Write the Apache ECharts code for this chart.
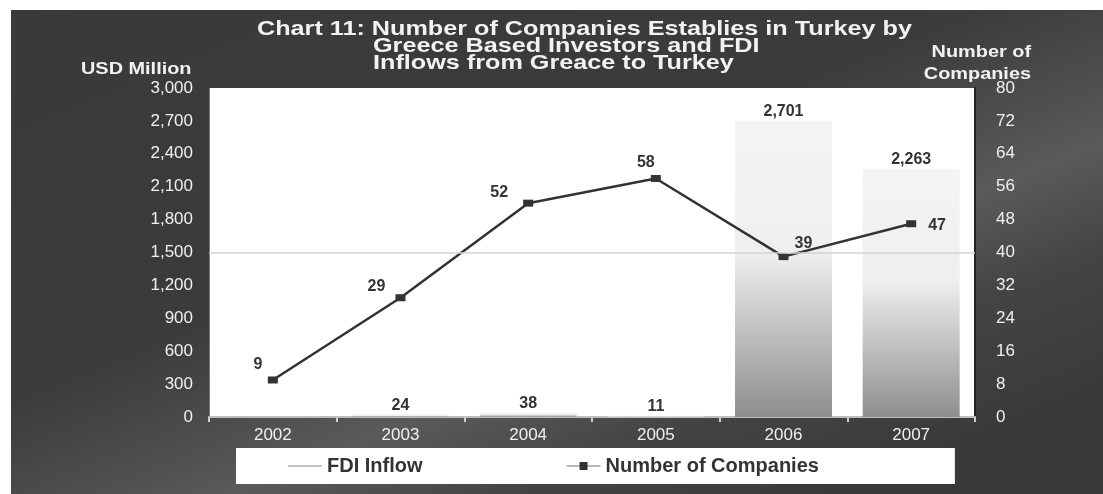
<!DOCTYPE html>
<html><head><meta charset="utf-8">
<script src="https://cdn.jsdelivr.net/npm/echarts@6/dist/echarts.min.js"></script>
<style>
html,body{margin:0;padding:0;background:#fff;width:1103px;height:494px;overflow:hidden;}
#bg{position:absolute;left:11px;top:10px;width:1092px;height:484px;
background:linear-gradient(158deg,#3a3a3a 0%,#3b3b3b 42%,#505050 56%,#5a5a5a 62%,#444 74%,#3a3a3a 88%);}
#chart{position:absolute;left:0;top:0;width:1103px;height:494px;}
</style></head><body>
<div id="bg"></div><div id="chart"></div>
<script>
// ---- data ----
const years = ['2002', '2003', '2004', '2005', '2006', '2007'];
const fdiInflow = [null, 24, 38, 11, 2701, 2263];          // USD Million
const companies = [9, 29, 52, 58, 39, 47];                  // Number of Companies
const titleLines = [
  'Chart 11: Number of Companies Establies in Turkey by',
  'Greece Based Investors and FDI',
  'Inflows from Greace to Turkey'
];
const leftAxisName = 'USD Million';
const rightAxisName = ['Number of', 'Companies'];
const seriesNames = ['FDI Inflow', 'Number of Companies'];

// ---- style (label placements for the line points) ----
const lineLabelStyle = [
  {position: 'top', offset: [-15, 1]},
  {position: 'top', offset: [-24, 5]},
  {position: 'top', offset: [-29, 6]},
  {position: 'top', offset: [-10, 1]},
  {position: 'top', offset: [20, 3]},
  {position: 'right', offset: [7, 2]}
];

const font = 'Liberation Sans, Arial, sans-serif';
const chart = echarts.init(document.getElementById('chart'), null, {renderer: 'canvas'});

const fmt = v => (v == null ? '' : Number(v).toLocaleString('en-US'));
const whiteBold = size => ({fill: '#f2f2f2', font: 'bold ' + size + 'px ' + font, verticalAlign: 'middle'});

const option = {
  animation: false,
  backgroundColor: 'transparent',
  graphic: [
    {type: 'text', x: 257, y: 29, scaleX: 1.2, style: Object.assign({text: titleLines[0], align: 'left'}, whiteBold(21))},
    {type: 'text', x: 373, y: 46, scaleX: 1.2, style: Object.assign({text: titleLines[1], align: 'left'}, whiteBold(21))},
    {type: 'text', x: 373, y: 63, scaleX: 1.2, style: Object.assign({text: titleLines[2], align: 'left'}, whiteBold(21))},
    {type: 'text', x: 81, y: 69, scaleX: 1.17, style: Object.assign({text: leftAxisName, align: 'left'}, whiteBold(17))},
    {type: 'text', x: 1031, y: 52, scaleX: 1.17, style: Object.assign({text: rightAxisName[0], align: 'right'}, whiteBold(17))},
    {type: 'text', x: 1031, y: 74, scaleX: 1.17, style: Object.assign({text: rightAxisName[1], align: 'right'}, whiteBold(17))}
  ],
  grid: {left: 209, right: 128, top: 88, bottom: 77, show: true, backgroundColor: '#ffffff', borderWidth: 0},
  legend: {
    left: 236, top: 448,
    backgroundColor: '#ffffff',
    padding: [8, 136, 8, 52],
    itemGap: 143,
    itemWidth: 34, itemHeight: 10,
    textStyle: {color: '#333', fontFamily: font, fontWeight: 'bold', fontSize: 20},
    data: [
      {name: seriesNames[0], icon: 'path://M0,0H34V2H0Z', itemStyle: {color: '#c4c4c4'}},
      {name: seriesNames[1], lineStyle: {color: '#b8b8b8'}, itemStyle: {color: '#333'}}
    ]
  },
  xAxis: {
    type: 'category',
    data: years,
    axisLine: {show: true, lineStyle: {color: '#bdbdbd', width: 2}},
    axisTick: {show: true, length: 5, lineStyle: {color: '#d0d0d0', width: 2}},
    axisLabel: {color: '#f0f0f0', fontFamily: font, fontSize: 17, margin: 10}
  },
  yAxis: [
    {
      type: 'value', min: 0, max: 3000, interval: 300,
      axisLine: {show: true, lineStyle: {color: '#777'}},
      axisTick: {show: false},
      splitLine: {show: false},
      axisLabel: {color: '#f0f0f0', fontFamily: font, fontSize: 17, margin: 16,
        formatter: v => Number(v).toLocaleString('en-US')}
    },
    {
      type: 'value', min: 0, max: 80, interval: 8, position: 'right',
      axisLine: {show: true, lineStyle: {color: '#222', width: 2}},
      axisTick: {show: false},
      splitLine: {show: false},
      axisLabel: {color: '#f0f0f0', fontFamily: font, fontSize: 17, margin: 21}
    }
  ],
  series: [
    {
      // reference gridline (drawn beneath the bars)
      type: 'line', yAxisIndex: 0, z: 1, data: [], silent: true,
      markLine: {
        silent: true, symbol: 'none', label: {show: false},
        lineStyle: {color: '#d4d4d4', type: 'solid', width: 1.5},
        data: [{yAxis: 1500}]
      }
    },
    {
      name: seriesNames[0],
      type: 'bar',
      yAxisIndex: 0,
      z: 2,
      barWidth: '76%',
      data: fdiInflow,
      itemStyle: {
        color: new echarts.graphic.LinearGradient(0, 0, 0, 1, [
          {offset: 0, color: '#f4f4f4'},
          {offset: 0.45, color: '#efefef'},
          {offset: 1, color: '#8e8e8e'}
        ])
      },
      label: {show: true, position: 'top', distance: 1, color: '#333', fontFamily: font,
        fontWeight: 'bold', fontSize: 16, formatter: p => fmt(p.value)}
    },
    {
      name: seriesNames[1],
      type: 'line',
      yAxisIndex: 1,
      z: 3,
      symbol: 'rect',
      symbolSize: [10, 7],
      lineStyle: {color: '#333', width: 2.5},
      itemStyle: {color: '#333'},
      data: companies.map((v, i) => ({
        value: v,
        label: Object.assign({show: true, color: '#333', fontFamily: font, fontWeight: 'bold', fontSize: 16}, lineLabelStyle[i])
      }))
    }
  ]
};
chart.setOption(option);
</script>
</body></html>
